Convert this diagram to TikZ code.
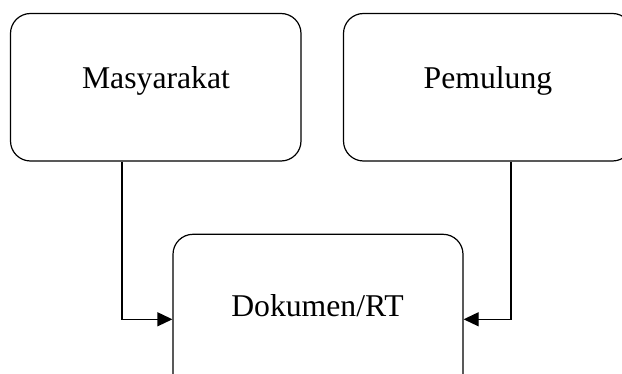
\documentclass[tikz,border=0pt]{standalone}
\usepackage{fontspec}
\setmainfont{Liberation Serif}
\usetikzlibrary{arrows.meta}
\begin{document}
\begin{tikzpicture}[x=1pt,y=-1pt,
  box/.style={draw, line width=1.2pt, rounded corners=20pt, inner sep=0pt, minimum height=147.5pt},
  lbl/.style={anchor=base, inner sep=0pt, font=\fontsize{31.7}{38}\selectfont},
  conn/.style={line width=1.2pt, -{Triangle[length=15pt,width=14pt]}}]
\useasboundingbox (0,0) rectangle (622,374);
\clip (0,0) rectangle (622,374);
\node[box, minimum width=290.5pt] (m) at (155.75,87.25) {};
\node[box, minimum width=289pt] (p) at (488,87.25) {};
\node[box, minimum width=290pt, minimum height=170pt] (d) at (318,319.3) {};
\node[lbl] (mt) at (156,89) {Masyarakat};
\node[lbl] (pt) at (488,89) {Pemulung};
\node[lbl] (dt) at (317.5,316.7) {Dokumen/RT};
\draw[conn] ([xshift=-33.75pt]m.south) |- (d.west);
\draw[conn] ([xshift=23pt]p.south) |- (d.east);
\end{tikzpicture}
\end{document}
